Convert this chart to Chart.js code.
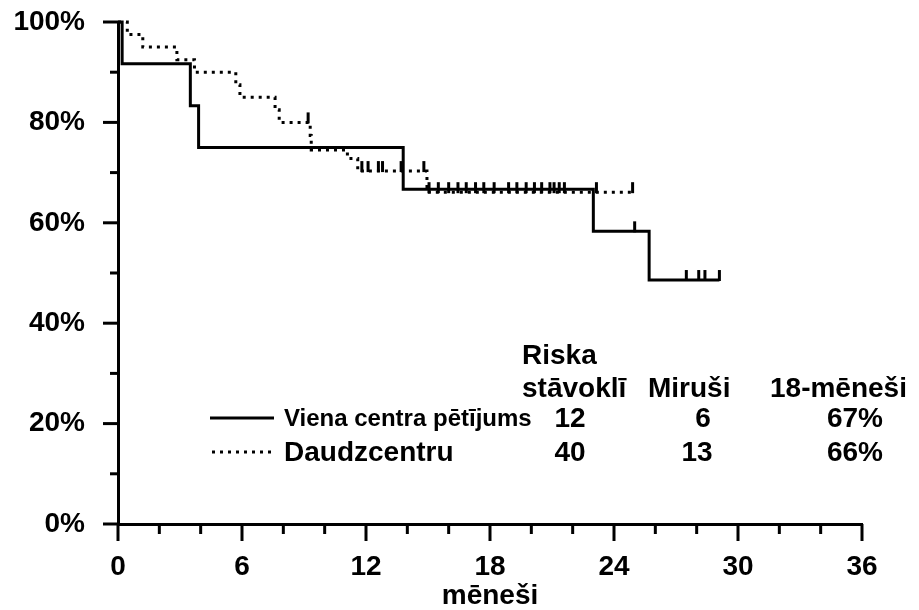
<!DOCTYPE html>
<html>
<head>
<meta charset="utf-8">
<script src="https://cdn.jsdelivr.net/npm/chart.js@4/dist/chart.umd.min.js"></script>
<style>
  html, body { margin: 0; padding: 0; background: #fff; }
  #wrap { position: relative; width: 919px; height: 610px; overflow: hidden; }
  canvas { position: absolute; left: 0; top: 0; }
  .t { position: absolute; font-family: 'Liberation Sans', Arial, sans-serif; font-weight: bold; color: #000; white-space: nowrap; line-height: 1; }
</style>
</head>
<body>
<div id="wrap">
  <canvas id="c" width="919" height="610"></canvas>
</div>
<script>
// ---- data ----
const seriesNames = ['Viena centra pētījums', 'Daudzcentru'];
const xTickValues = [0, 6, 12, 18, 24, 30, 36];
const yTickValues = [0, 20, 40, 60, 80, 100];
const xTitle = 'mēneši';

// Single centre study (solid)
const singleTimes = [0, 0.2, 3.5, 3.9, 13.8, 23.0, 25.7, 29.1];
const singleSurv  = [100, 91.7, 83.3, 75.0, 66.7, 58.3, 48.6, 48.6];
const singleCensor = [25.0, 27.5, 28.1, 28.4, 29.1];

// Multicentre (dotted)
const multiTimes = [0, 0.45, 1.2, 2.85, 3.7, 5.7, 5.9, 7.6, 7.8, 9.3, 9.35, 11.1, 11.6, 14.95, 24.9];
const multiSurv  = [100, 97.5, 95.0, 92.5, 90.0, 87.5, 85.0, 82.5, 80.0, 77.4, 74.5, 72.8, 70.3, 66.1, 66.1];
const multiCensor = [9.2, 11.8, 12.1, 12.6, 12.8, 13.7, 14.8, 15.05, 15.5, 16.0, 16.45, 16.85, 17.3, 17.7, 18.2,
                     18.9, 19.3, 19.75, 20.15, 20.5, 20.9, 21.1, 21.35, 21.6, 23.15, 24.9];

// Table
const tableHead1 = 'Riska';
const tableHeads = ['stāvoklī', 'Miruši', '18-mēneši'];
const atRisk = [12, 40];
const deaths = [6, 13];
const surv18 = ['67%', '66%'];

// ---- helpers ----
function toPoints(ts, ss) { return ts.map((t, i) => ({ x: t, y: ss[i] })); }
function survAt(ts, ss, t) {
  let v = ss[0];
  for (let i = 0; i < ts.length; i++) { if (ts[i] <= t) v = ss[i]; }
  return v;
}
const dashPattern = [3, 5];

const axisTicks = {
  id: 'axisTicks',
  afterDraw(chart) {
    const ctx = chart.ctx;
    const xs = chart.scales.x, ys = chart.scales.y;
    const a = chart.chartArea;
    ctx.save();
    ctx.strokeStyle = '#000';
    ctx.lineWidth = 3;
    ctx.lineCap = 'butt';
    for (let v = 0; v <= 100; v += 10) {
      const len = v % 20 === 0 ? 15 : 8;
      const y = ys.getPixelForValue(v);
      ctx.beginPath(); ctx.moveTo(a.left - len, y); ctx.lineTo(a.left, y); ctx.stroke();
    }
    for (let t = 0; t <= 36; t += 2) {
      const len = t % 6 === 0 ? 17 : 10;
      const x = xs.getPixelForValue(t);
      ctx.beginPath(); ctx.moveTo(x, a.bottom); ctx.lineTo(x, a.bottom + len); ctx.stroke();
    }
    // censor marks
    const groups = [[singleTimes, singleSurv, singleCensor], [multiTimes, multiSurv, multiCensor]];
    groups.forEach(([ts, ss, cs]) => {
      cs.forEach(t => {
        const x = xs.getPixelForValue(t);
        const y = ys.getPixelForValue(survAt(ts, ss, t));
        ctx.beginPath(); ctx.moveTo(x, y + 1); ctx.lineTo(x, y - 10); ctx.stroke();
      });
    });
    // legend samples
    ctx.setLineDash([]);
    ctx.beginPath(); ctx.moveTo(210, 418); ctx.lineTo(274, 418); ctx.stroke();
    ctx.setLineDash(dashPattern);
    ctx.beginPath(); ctx.moveTo(212, 452); ctx.lineTo(274, 452); ctx.stroke();
    ctx.restore();
  }
};

const font = { family: "'Liberation Sans', Arial, sans-serif", weight: 'bold', size: 28 };
const titleFont = { family: "'Liberation Sans', Arial, sans-serif", weight: 'bold', size: 28, lineHeight: 1.0 };

new Chart(document.getElementById('c'), {
  type: 'line',
  data: {
    datasets: [
      { label: seriesNames[0], data: toPoints(singleTimes, singleSurv), stepped: true,
        borderColor: '#000', borderWidth: 3, pointRadius: 0, fill: false, clip: 6 },
      { label: seriesNames[1], data: toPoints(multiTimes, multiSurv), stepped: true,
        borderColor: '#000', borderWidth: 3, borderDash: dashPattern, pointRadius: 0, fill: false, clip: 6 }
    ]
  },
  options: {
    responsive: false,
    animation: false,
    events: [],
    layout: { padding: { left: 0, right: 57, top: 22, bottom: 0 } },
    plugins: { legend: { display: false }, tooltip: { enabled: false } },
    scales: {
      x: {
        type: 'linear', min: 0, max: 36,
        afterBuildTicks: s => { s.ticks = xTickValues.map(v => ({ value: v })); },
        afterFit: s => { s.height = 86; s.paddingLeft = 0; s.paddingRight = 0; s.paddingTop = 0; s.paddingBottom = 0; },
        grid: { display: false, drawTicks: false },
        border: { display: true, color: '#000', width: 3 },
        ticks: { color: '#000', font: font, padding: 26, maxRotation: 0, autoSkip: false },
        title: { display: true, text: xTitle, color: '#000', font: titleFont, padding: { top: 4, bottom: 0 } }
      },
      y: {
        type: 'linear', min: 0, max: 100,
        afterBuildTicks: s => { s.ticks = yTickValues.map(v => ({ value: v })); },
        afterFit: s => { s.width = 118; s.paddingLeft = 0; s.paddingRight = 0; s.paddingTop = 0; s.paddingBottom = 0; },
        grid: { display: false, drawTicks: false },
        border: { display: true, color: '#000', width: 3 },
        ticks: { color: '#000', font: font, padding: 33, callback: v => v + '%' }
      }
    }
  },
  plugins: [axisTicks]
});

// ---- table as real text ----
const wrap = document.getElementById('wrap');
function addText(txt, x, y, size, align) {
  const d = document.createElement('div');
  d.className = 't';
  d.textContent = txt;
  d.style.fontSize = size + 'px';
  d.style.top = (y - size * 0.5) + 'px';
  d.style.left = x + 'px';
  if (align === 'center') d.style.transform = 'translateX(-50%)';
  wrap.appendChild(d);
}
addText(tableHead1, 522, 355, 28);
addText(tableHeads[0], 522, 388, 28);
addText(tableHeads[1], 648, 388, 28);
addText(tableHeads[2], 770, 388, 28);
addText(seriesNames[0], 284, 418, 24);
addText(seriesNames[1], 284, 452, 28);
[0, 1].forEach(i => {
  const y = i === 0 ? 418 : 452;
  addText(String(atRisk[i]), 570, y, 28, 'center');
  addText(String(deaths[i]), i === 0 ? 703 : 697, y, 28, 'center');
  addText(surv18[i], 855, y, 28, 'center');
});
</script>
</body>
</html>
